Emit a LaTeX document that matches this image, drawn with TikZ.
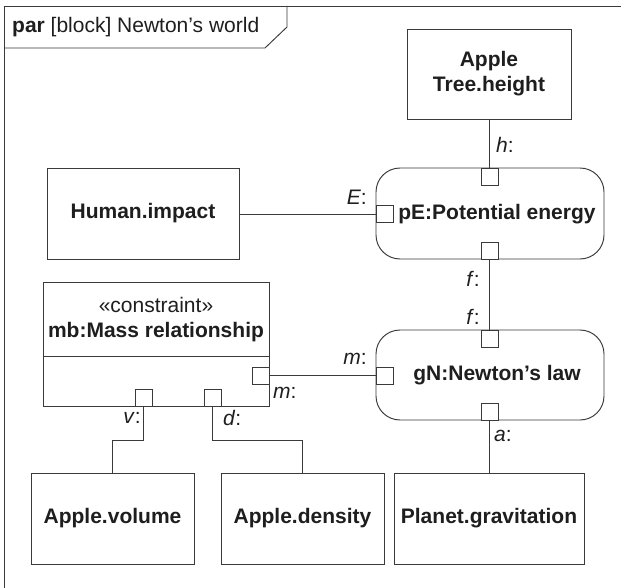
\documentclass[tikz,border=0pt]{standalone}
\usepackage{fontspec}
\setmainfont{Liberation Sans}
\definecolor{ln}{HTML}{3A3A3A}
\definecolor{tx}{HTML}{1E1E1E}
\begin{document}
\begin{tikzpicture}[x=1pt,y=-1pt,
  every node/.style={font=\fontsize{21}{25}\selectfont, text=tx, inner sep=0pt},
  blk/.style={draw=ln, line width=0.95pt, fill=white, align=center, font=\fontsize{21}{25}\selectfont\bfseries},
  part/.style={blk, rounded corners=24pt},
  port/.style={draw=ln, line width=0.95pt, fill=white, minimum size=17pt},
  conn/.style={draw=ln, line width=0.95pt},
  lbl/.style={font=\fontsize{21}{25}\selectfont},
]
\useasboundingbox (0,0) rectangle (621,588);
% frame
\draw[conn] (4,588) -- (4,6) -- (621,6);
\draw[conn] (4,48) -- (265,48) -- (287,27) -- (287,6);
\node[anchor=west] (title) at (12,27.5) {\textbf{par} [block] Newton’s world};
% blocks
\node[blk, minimum width=164pt, minimum height=90pt] (tree) at (489,74) {Apple\\Tree.height};
\node[blk, minimum width=192pt, minimum height=91pt] (hum) at (143,213.5) {Human.impact};
\node[part, minimum width=228pt, minimum height=91pt] (pE) at (490,213.5) {};
\node[font=\fontsize{21}{25}\selectfont\bfseries] (pEt) at (497,214) {pE:Potential energy};
\node[part, minimum width=228pt, minimum height=90pt] (gN) at (490,375) {};
\node[font=\fontsize{21}{25}\selectfont\bfseries] (gNt) at (497,375.5) {gN:Newton’s law};
\node[blk, minimum width=226pt, minimum height=124pt] (mb) at (156,344) {};
\draw[conn] ([yshift=-12pt]mb.west) -- ([yshift=-12pt]mb.east);
\node[align=center] (mbt) at (156,320) {«constraint»\\\textbf{mb:Mass relationship}};
\node[blk, minimum width=163pt, minimum height=91pt] (vol) at (112.5,518.5) {Apple.volume};
\node[blk, minimum width=163pt, minimum height=91pt] (den) at (302.5,518.5) {Apple.density};
\node[blk, minimum width=190pt, minimum height=91pt] (pla) at (489,518.5) {Planet.gravitation};
% ports
\node[port] (pEtop) at (489.5,176.5) {};
\node[port] (pEbot) at (489.5,250.5) {};
\node[port] (pEleft) at (384.5,214) {};
\node[port] (gNtop) at (489.5,338.5) {};
\node[port] (gNleft) at (384.5,375.5) {};
\node[port] (gNbot) at (489.5,411.5) {};
\node[port] (mbm) at (260.5,375.5) {};
\node[port] (mbv) at (143.5,397.5) {};
\node[port] (mbd) at (212.5,397.5) {};
% connectors
\draw[conn] (tree.south -| pEtop) -- (pEtop.north);
\draw[conn] (hum.east |- pEleft) -- (pEleft.west);
\draw[conn] (pEbot.south) -- (gNtop.north);
\draw[conn] (mbm.east) -- (gNleft.west);
\draw[conn] (gNbot.south) -- (pla.north -| gNbot);
\draw[conn] (mbv.south) -- ++(0,34) -| (vol.north);
\draw[conn] (mbd.south) -- ++(0,34) -| (den.north);
% labels
\node[lbl, anchor=base west] (lh) at (496,152.5) {\textit{h}:};
\node[lbl, anchor=base east] (lE) at (367,205) {\textit{E}:};
\node[lbl, anchor=base east] (lf1) at (480,286) {\textit{f}:};
\node[lbl, anchor=base east] (lf2) at (480,324) {\textit{f}:};
\node[lbl, anchor=base east] (lm1) at (367,364) {\textit{m}:};
\node[lbl, anchor=base west] (lm2) at (273,398) {\textit{m}:};
\node[lbl, anchor=base east] (lv) at (141,423) {\textit{v}:};
\node[lbl, anchor=base west] (ld) at (223,425) {\textit{d}:};
\node[lbl, anchor=base west] (la) at (494,441) {\textit{a}:};
\end{tikzpicture}
\end{document}
